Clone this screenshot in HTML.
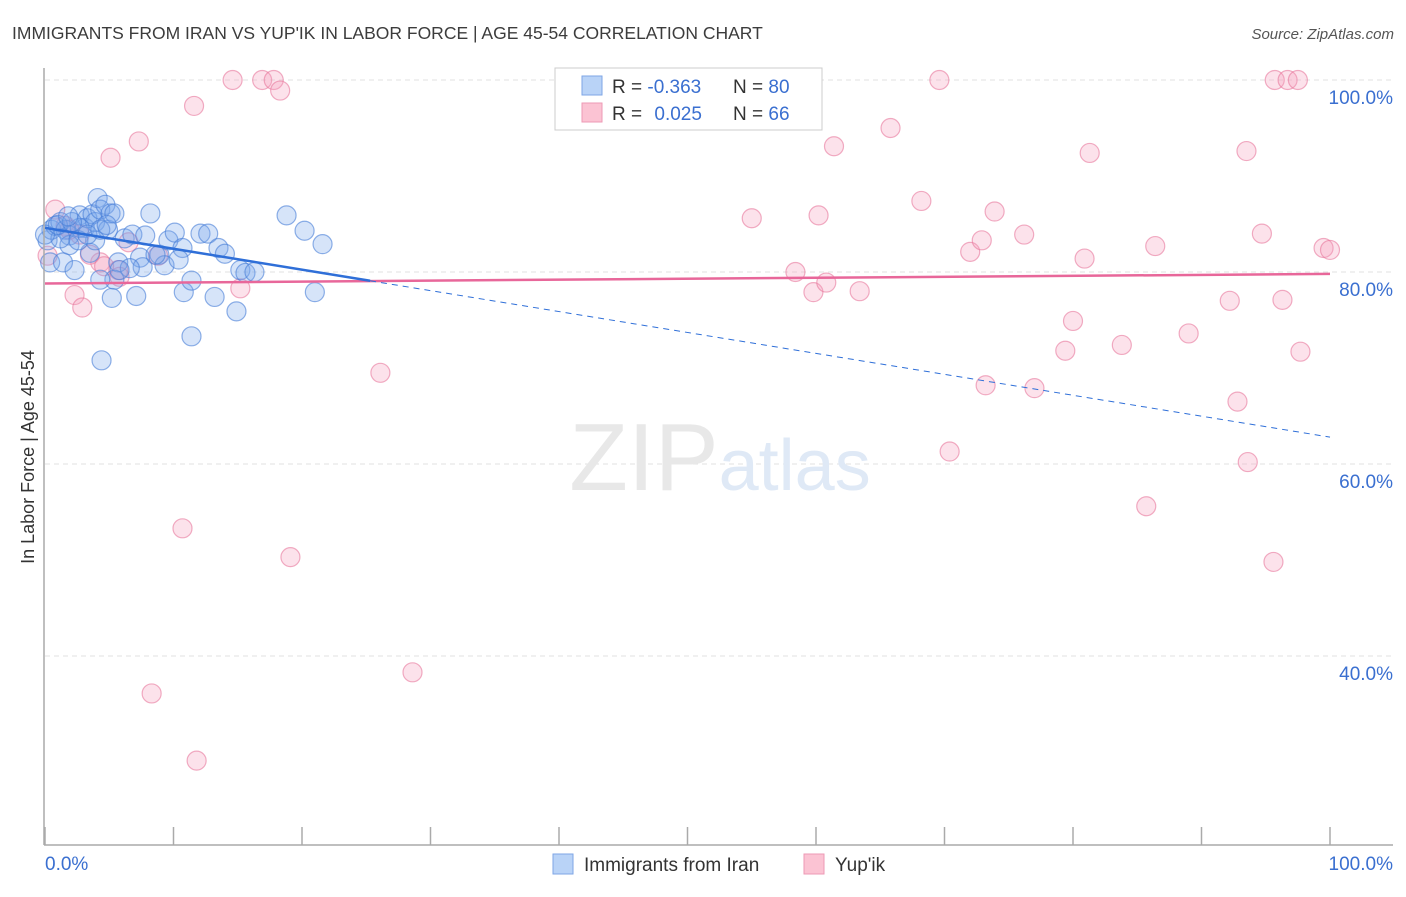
<!DOCTYPE html>
<html><head><meta charset="utf-8">
<style>
body{margin:0;background:#fff;font-family:"Liberation Sans",sans-serif;}
svg text{font-family:"Liberation Sans",sans-serif;}
</style></head>
<body>
<svg id="chart" width="1406" height="892" viewBox="0 0 1406 892" xmlns="http://www.w3.org/2000/svg">
<text x="12" y="39" font-size="17.5" fill="#3c3c3c">IMMIGRANTS FROM IRAN VS YUP'IK IN LABOR FORCE | AGE 45-54 CORRELATION CHART</text>
<text x="1394" y="39" font-size="15" fill="#555" text-anchor="end" font-style="italic">Source: ZipAtlas.com</text>
<g id="grid"></g>
<text x="720" y="490" font-size="96" text-anchor="middle" fill="#e8e8e8" font-family="Liberation Serif">ZIP<tspan fill="#dfe9f6" font-family="Liberation Sans" font-size="72">atlas</tspan></text>
<g id="marks"></g>
<g id="axes"></g>
<text transform="translate(34,457) rotate(-90)" font-size="18" fill="#333" text-anchor="middle">In Labor Force | Age 45-54</text>
<g>
<rect x="555" y="68" width="267" height="62" fill="#fff" stroke="#ccc"/>
<rect x="582" y="76" width="20" height="19" fill="#b9d3f7" stroke="#7ea6e6"/>
<rect x="582" y="103" width="20" height="19" fill="#fbc3d3" stroke="#ee9ab5"/>
<text x="612" y="93" font-size="19" fill="#333">R = <tspan fill="#3a6fd0">-0.363</tspan></text>
<text x="733" y="93" font-size="19" fill="#333">N = <tspan fill="#3a6fd0">80</tspan></text>
<text x="612" y="120" font-size="19" fill="#333">R = <tspan fill="#3a6fd0" dx="7">0.025</tspan></text>
<text x="733" y="120" font-size="19" fill="#333">N = <tspan fill="#3a6fd0">66</tspan></text>
</g>
<g>
<rect x="553" y="854" width="20" height="20" fill="#b9d3f7" stroke="#7ea6e6"/>
<text x="584" y="871" font-size="19" fill="#333">Immigrants from Iran</text>
<rect x="804" y="854" width="20" height="20" fill="#fbc3d3" stroke="#ee9ab5"/>
<text x="835" y="871" font-size="19" fill="#333">Yup'ik</text>
</g>
</svg>
<script>
const blueX=[0.4,0.2,0.5,0.8,1.2,1.6,1.9,1.9,1.4,2.3,2.7,3.1,3.3,3.7,3.9,4.1,4.3,4.7,4.9,5.1,5.4,5.7,5.4,4.3,5.2,4.4,3.5,3.9,6.2,6.8,7.4,7.8,8.2,7.6,6.6,7.1,8.9,9.3,9.6,10.1,10.7,10.4,10.8,11.4,11.4,12.1,12.7,13.2,13.5,14.0,14.9,15.2,15.6,16.3,18.8,20.2,21.0,21.6,1.2,0.0,1.0,2.7,2.1,1.8,2.6,3.3,4.3,4.8,5.8,8.6];
const blueY=[81.0,83.3,84.4,84.8,85.2,84.4,83.8,82.8,81.0,80.2,85.9,84.6,85.6,86.0,85.2,87.7,86.5,87.0,84.4,86.1,86.1,81.0,79.2,79.2,77.3,70.8,82.0,83.3,83.5,83.9,81.5,83.8,86.1,80.5,80.4,77.5,81.8,80.7,83.3,84.1,82.5,81.3,77.9,79.1,73.3,84.0,84.0,77.4,82.5,81.9,75.9,80.2,79.9,80.0,85.9,84.3,77.9,82.9,83.5,83.9,84.9,84.6,85.2,85.8,83.3,83.9,84.4,84.9,80.2,81.8];
const pinkX=[0.8,2.3,2.9,5.1,7.3,11.6,14.6,16.9,17.8,18.3,5.7,4.3,6.5,8.8,15.2,10.7,8.3,11.8,19.1,26.1,28.6,55.0,58.4,59.8,60.2,60.8,61.4,63.4,65.8,68.2,69.6,70.4,72.0,72.9,73.2,73.9,76.2,77.0,80.0,79.4,80.9,81.3,83.8,86.4,89.0,92.2,92.8,93.6,93.5,94.7,95.6,95.7,96.3,96.7,97.5,97.7,99.5,100,85.7,0.2,1.6,2.7,3.5,4.6,5.8,1.9];
const pinkY=[86.5,77.6,76.3,91.9,93.6,97.3,100,100,100,98.9,80.2,81.0,83.1,81.7,78.3,53.3,36.1,29.1,50.3,69.5,38.3,85.6,80.0,77.9,85.9,78.9,93.1,78.0,95.0,87.4,100,61.3,82.1,83.3,68.2,86.3,83.9,67.9,74.9,71.8,81.4,92.4,72.4,82.7,73.6,77.0,66.5,60.2,92.6,84.0,49.8,100,77.1,100,100,71.7,82.5,82.3,55.6,81.7,84.8,83.9,81.8,80.6,79.5,84.4];
const blueTrend=[84.6,62.8];   // value at x=0, x=100
const pinkTrend=[78.8,79.8];
const yTicks=[100,80,60,40];
const yTickLabels=["100.0%","80.0%","60.0%","40.0%"];
const xTicks=[0,10,20,30,40,50,60,70,80,90,100];

const NS="http://www.w3.org/2000/svg";
const X0=45,X1=1330,Y100=80,PXPER=9.6;
function sx(v){return X0+(X1-X0)*v/100;}
function sy(v){return Y100+(100-v)*PXPER;}
function mk(tag,attrs,parent){const e=document.createElementNS(NS,tag);for(const k in attrs)e.setAttribute(k,attrs[k]);parent.appendChild(e);return e;}
const grid=document.getElementById('grid'),marks=document.getElementById('marks'),axes=document.getElementById('axes');
yTicks.forEach((t,i)=>{
  const l=mk('line',{x1:45,x2:1393,y1:sy(t),y2:sy(t),stroke:'#e2e2e2','stroke-dasharray':'5,4'},grid);
  
  
  const tx=mk('text',{x:1393,y:sy(t)+24,'font-size':19,fill:'#3a6fd0','text-anchor':'end'},axes);
  tx.textContent=yTickLabels[i];
  
  
});
const al=mk('line',{x1:44,x2:44,y1:68,y2:845,stroke:'#aaa','stroke-width':1.5},axes);


const bl=mk('line',{x1:44,x2:1393,y1:845,y2:845,stroke:'#aaa','stroke-width':1.5},axes);


xTicks.forEach(t=>{
  const l=mk('line',{x1:sx(t),x2:sx(t),y1:827,y2:845,stroke:'#aaa','stroke-width':1.5},axes);
  
  
});
const xl0=mk('text',{x:45,y:870,'font-size':19,fill:'#3a6fd0'},axes);xl0.textContent='0.0%';


const xl1=mk('text',{x:1393,y:870,'font-size':19,fill:'#3a6fd0','text-anchor':'end'},axes);xl1.textContent='100.0%';



pinkX.forEach((v,i)=>{
  const c=mk('circle',{cx:sx(v),cy:sy(pinkY[i]),r:9.5,fill:'rgba(244,160,188,0.3)',stroke:'rgba(232,120,156,0.6)','stroke-width':1.2},marks);
  
  
});
blueX.forEach((v,i)=>{
  const c=mk('circle',{cx:sx(v),cy:sy(blueY[i]),r:9.5,fill:'rgba(120,165,235,0.3)',stroke:'rgba(70,125,215,0.6)','stroke-width':1.2},marks);
  
  
});
function tv(tr,x){return tr[0]+(tr[1]-tr[0])*x/100;}
const pl=mk('line',{x1:sx(0),y1:sy(tv(pinkTrend,0)),x2:sx(100),y2:sy(tv(pinkTrend,100)),stroke:'#e8679a','stroke-width':2.5},marks);


const bs=mk('line',{x1:sx(0),y1:sy(tv(blueTrend,0)),x2:sx(25.3),y2:sy(tv(blueTrend,25.3)),stroke:'#2f6fd8','stroke-width':2.5},marks);


const bd=mk('line',{x1:sx(25.3),y1:sy(tv(blueTrend,25.3)),x2:sx(100),y2:sy(tv(blueTrend,100)),stroke:'#2f6fd8','stroke-width':1,'stroke-dasharray':'6,5'},marks);


</script>
</body></html>
